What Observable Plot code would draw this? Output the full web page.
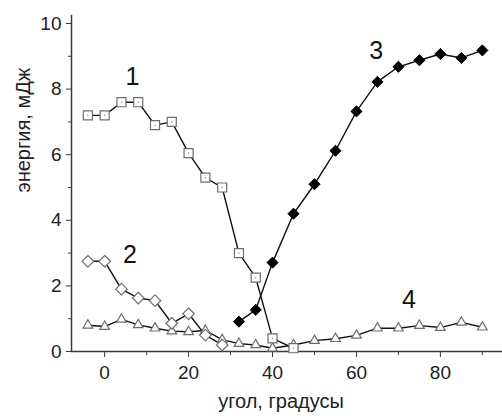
<!DOCTYPE html>
<html>
<head>
<meta charset="utf-8">
<script src="https://cdn.jsdelivr.net/npm/d3@7"></script>
<script src="https://cdn.jsdelivr.net/npm/@observablehq/plot@0.6"></script>
<style>
  html, body { margin: 0; padding: 0; background: #fff; }
  #chart svg { display: block; }
</style>
</head>
<body>
<div id="chart"></div>
<script>
// Series 1 — open squares
const angle1 = [-4, 0, 4, 8, 12, 16, 20, 24, 28, 32, 36, 40, 45];
const energy1 = [7.2, 7.2, 7.6, 7.6, 6.9, 7.0, 6.05, 5.3, 5.0, 3.0, 2.25, 0.4, 0.1];
// Series 2 — open diamonds
const angle2 = [-4, 0, 4, 8, 12, 16, 20, 24, 28];
const energy2 = [2.75, 2.75, 1.9, 1.63, 1.55, 0.86, 1.15, 0.5, 0.2];
// Series 3 — filled diamonds
const angle3 = [32, 36, 40, 45, 50, 55, 60, 65, 70, 75, 80, 85, 90];
const energy3 = [0.91, 1.27, 2.71, 4.2, 5.1, 6.12, 7.32, 8.22, 8.68, 8.88, 9.07, 8.95, 9.18];
// Series 4 — open triangles
const angle4 = [-4, 0, 4, 8, 12, 16, 20, 24, 28, 32, 36, 40, 45, 50, 55, 60, 65, 70, 75, 80, 85, 90];
const energy4 = [0.8, 0.76, 0.98, 0.81, 0.71, 0.62, 0.6, 0.64, 0.36, 0.24, 0.2, 0.1, 0.2, 0.33, 0.39, 0.49, 0.71, 0.71, 0.79, 0.73, 0.89, 0.74];
// Curve labels
const curveNames = ["1", "2", "3", "4"];
const curveLabelX = [6.6, 6, 64.7, 72.5];
const curveLabelY = [8.38, 2.93, 9.15, 1.58];
// Axes
const xMajorTicks = [0, 20, 40, 60, 80];
const xMinorTicks = [10, 30, 50, 70, 90];
const yMajorTicks = [0, 2, 4, 6, 8, 10];
const yMinorTicks = [1, 3, 5, 7, 9];
const xTitle = "угол, градусы";
const yTitle = "энергия, мДж";

const toRows = (xs, ys) => xs.map((x, i) => ({x, y: ys[i]}));
const s1 = toRows(angle1, energy1);
const s2 = toRows(angle2, energy2);
const s3 = toRows(angle3, energy3);
const s4 = toRows(angle4, energy4);
const labels = curveNames.map((t, i) => ({t, x: curveLabelX[i], y: curveLabelY[i]}));

const lineColor = "#111";
const markStroke = "#6e6e6e";
const axisColor = "#3a3a3a";
const font = "'Liberation Sans', Arial, sans-serif";

const chart = Plot.plot({
  width: 502,
  height: 418,
  marginLeft: 71,
  marginRight: 0,
  marginTop: 23,
  marginBottom: 67,
  style: {fontFamily: font, background: "#fff", color: "#222"},
  x: {domain: [-7.9, 94.8]},
  y: {domain: [0, 10]},
  marks: [
    // axis lines
    Plot.ruleX([-7.9], {y1: 0, y2: 10.25, stroke: axisColor, strokeWidth: 1.5}),
    Plot.ruleY([0], {stroke: axisColor, strokeWidth: 1.5}),
    // ticks
    Plot.axisX(xMajorTicks, {tickSize: 6, tickPadding: 8, fontSize: 19, stroke: axisColor, label: null, tickFormat: d => String(d)}),
    Plot.axisX(xMinorTicks, {tickSize: 4, stroke: axisColor, label: null, tickFormat: () => ""}),
    Plot.axisY(yMajorTicks, {tickSize: 5, tickPadding: 5, fontSize: 19, stroke: axisColor, label: null, tickFormat: d => String(d)}),
    Plot.axisY(yMinorTicks, {tickSize: 3, stroke: axisColor, label: null, tickFormat: () => ""}),
    // axis titles
    Plot.text([yTitle], {frameAnchor: "left", rotate: -90, dx: -48, dy: 5, fontSize: 20, fill: "#222"}),
    Plot.text([xTitle], {frameAnchor: "bottom", dx: -6, dy: 56, fontSize: 20, fill: "#222"}),
    // lines
    Plot.line(s4, {x: "x", y: "y", stroke: lineColor, strokeWidth: 1.4}),
    Plot.line(s2, {x: "x", y: "y", stroke: lineColor, strokeWidth: 1.4}),
    Plot.line(s1, {x: "x", y: "y", stroke: lineColor, strokeWidth: 1.4}),
    Plot.line(s3, {x: "x", y: "y", stroke: lineColor, strokeWidth: 1.4}),
    // markers
    Plot.dot(s4, {x: "x", y: "y", symbol: "triangle2", r: 4.6, stroke: markStroke, fill: "#fff", strokeWidth: 1.2}),
    Plot.dot(s2, {x: "x", y: "y", symbol: "diamond2", r: 5.2, stroke: markStroke, fill: "#fff", strokeWidth: 1.2}),
    Plot.dot(s1, {x: "x", y: "y", symbol: "square", r: 5.1, stroke: markStroke, fill: "#fff", strokeWidth: 1.2}),
    Plot.dot(s1, {x: "x", y: "y", r: 0.8, fill: "#999", stroke: "none"}),
    Plot.dot(s3, {x: "x", y: "y", symbol: "diamond2", r: 5.0, stroke: "#000", fill: "#000", strokeWidth: 1}),
    // curve labels
    Plot.text(labels, {x: "x", y: "y", text: "t", fontSize: 25, fill: "#111"})
  ]
});
document.getElementById("chart").appendChild(chart);
</script>
</body>
</html>
